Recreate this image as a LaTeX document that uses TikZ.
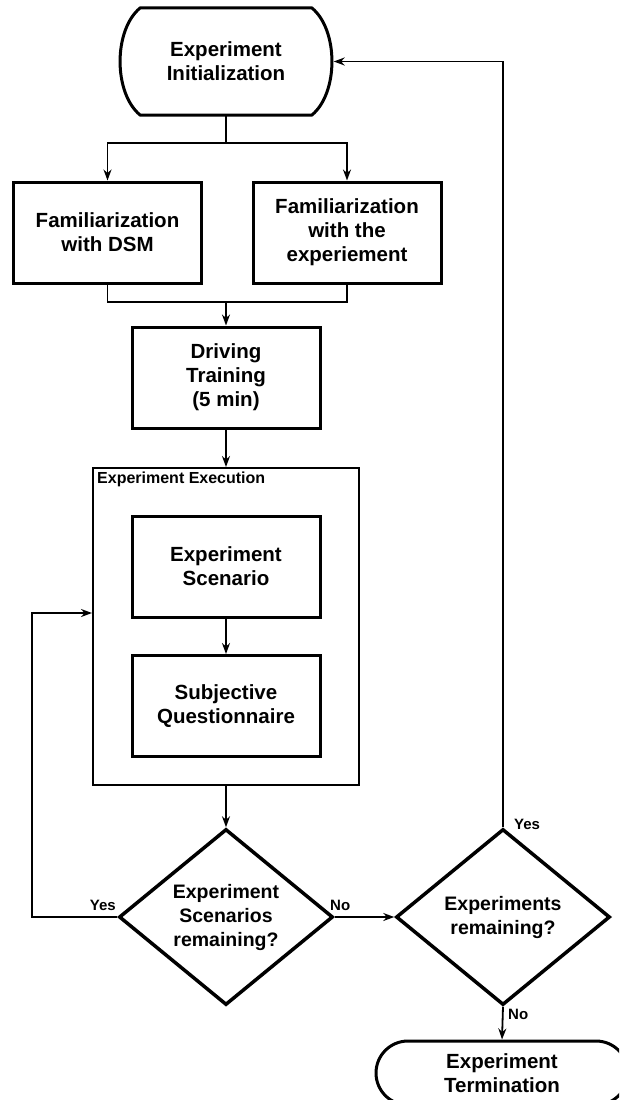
\documentclass[tikz,border=0pt]{standalone}
\usepackage{fontspec}
\setmainfont{Liberation Sans}
\usetikzlibrary{arrows.meta,shapes.geometric,shapes.misc}
\begin{document}
\begin{tikzpicture}[x=1pt,y=-1pt,
  txt/.style={font=\bfseries\fontsize{20.5}{24}\selectfont, align=center},
  stepbox/.style={draw, line width=3pt, txt, minimum width=188pt, minimum height=101pt, inner sep=0pt},
  decision/.style={draw, diamond, line width=3.5pt, font=\bfseries\fontsize{19.5}{24}\selectfont, align=center,
    minimum width=214pt, minimum height=176pt, aspect=1.216, inner sep=0pt},
  conn/.style={line width=1.8pt},
  flow/.style={conn, -{Stealth[length=11pt,width=8pt]}},
  branch/.style={font=\bfseries\fontsize{15}{18}\selectfont, inner sep=0pt}
]
\useasboundingbox (0,0) rectangle (619,1100);
\clip (0,0) rectangle (619,1100);

% start terminal: flat top and bottom, bulging sides
\node[txt, minimum width=215pt, minimum height=107pt, inner sep=0pt] (init) at (226,61.5) {Experiment\\Initialization};
\draw[line width=3pt, line join=round]
  ([xshift=22pt]init.north west) -- ([xshift=-22pt]init.north east)
  .. controls +(27,22) and +(27,-22) .. ([xshift=-22pt]init.south east)
  -- ([xshift=22pt]init.south west)
  .. controls +(-27,-22) and +(-27,22) .. ([xshift=22pt]init.north west) -- cycle;

% preparation steps
\node[stepbox] (fam1) at (107.5,232.5) {Familiarization\\with DSM};
\node[stepbox] (fam2) at (347,232.5) {Familiarization\\with the\\experiement};
\node[stepbox] (drive) at (226,377.5) {Driving\\Training\\(5 min)};

% execution frame with its two steps
\node[draw, line width=2pt, minimum width=266pt, minimum height=317pt, inner sep=0pt] (exec) at (226,626.5) {};
\node[font=\bfseries\fontsize{16}{19}\selectfont, anchor=west, inner sep=0pt] (execlbl) at (97,479) {Experiment Execution};
\node[stepbox] (scen) at (226,566.5) {Experiment\\Scenario};
\node[stepbox] (quest) at (226,706) {Subjective\\Questionnaire};

% decisions
\node[decision] (d1) at (226,917) {Experiment\\Scenarios\\remaining?};
\node[decision] (d2) at (503,917) {Experiments\\remaining?};

% end terminal
\node[draw, rounded rectangle, line width=3pt, txt, minimum width=252pt, minimum height=64pt, inner sep=0pt] (term) at (502,1073) {Experiment\\Termination};

% connectors
\coordinate (split) at (226,143);
\coordinate (merge) at (226,302);
\coordinate (loopturn) at (32,613);
\draw[conn] (init.south) -- (split);
\draw[flow] (split) -| (fam1.north);
\draw[flow] (split) -| (fam2.north);
\draw[conn] (fam1.south) |- (merge);
\draw[conn] (fam2.south) |- (merge);
\draw[flow] (merge) -- (drive.north);
\draw[flow] (drive.south) -- (exec.north);
\draw[flow] (scen.south) -- (quest.north);
\draw[flow] (exec.south) -- (d1.north);
\draw[flow] (d1.west) -| (loopturn) -- (exec.west |- loopturn);
\draw[flow] (d1.east) -- (d2.west);
\draw[flow] (d2.north) |- (init.east);
\draw[flow] (d2.south) -- (term.north);

% branch labels
\node[branch, anchor=base east] (yes1) at (116,910) {Yes};
\node[branch, anchor=base west] (no1) at (330,910) {No};
\node[branch, anchor=base west] (yes2) at (514,829) {Yes};
\node[branch, anchor=base west] (no2) at (508,1019) {No};
\end{tikzpicture}
\end{document}
